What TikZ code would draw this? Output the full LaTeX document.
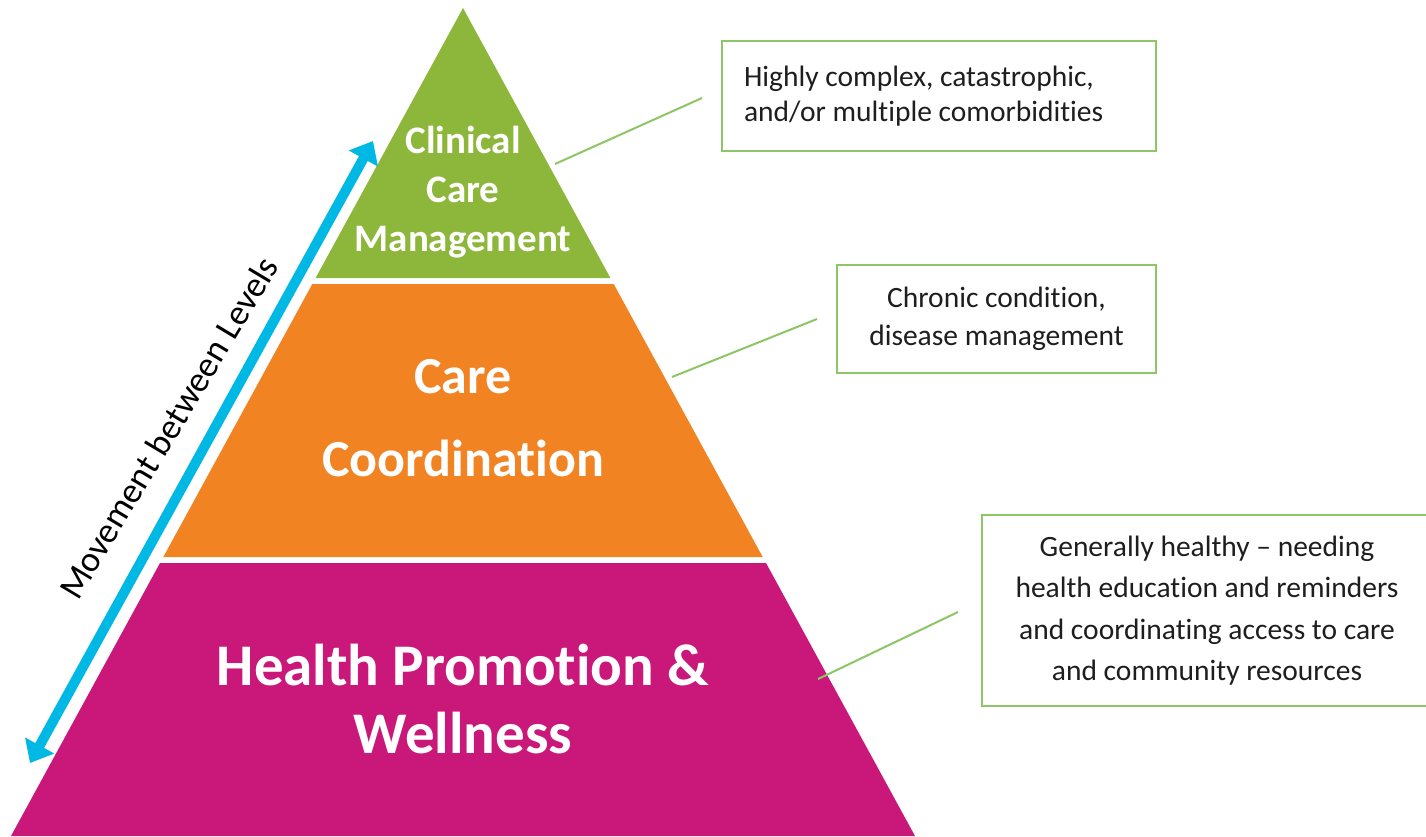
\documentclass[tikz,border=0pt]{standalone}
\usepackage{fontspec}
\setmainfont{Carlito}[Ligatures={NoCommon,NoDiscretionary,NoRare}]
\usetikzlibrary{arrows.meta}
\definecolor{lvgreen}{RGB}{141,183,59}
\definecolor{lvorange}{RGB}{242,131,34}
\definecolor{lvmagenta}{RGB}{202,23,122}
\definecolor{arrcyan}{RGB}{0,184,228}
\definecolor{boxgreen}{RGB}{141,198,103}
\definecolor{boxtext}{RGB}{30,30,30}
\tikzset{
  lvtext/.style={text=white, align=center, font=\bfseries},
  callout/.style={draw=boxgreen, line width=2.2pt, text=boxtext, inner sep=0pt},
  leader/.style={draw=boxgreen, line width=2pt},
  movearrow/.style={draw=arrcyan, line width=10pt, {Triangle[length=20pt,width=32pt]}-{Triangle[length=20pt,width=32pt]}},
}
\begin{document}
\begin{tikzpicture}[x=1pt,y=-1pt]
\clip (0,0) rectangle (1426,836);
\fill[white] (0,0) rectangle (1426,836);
% pyramid levels
\fill[lvgreen] (463,8) -- (315.6,278) -- (610.4,278) -- cycle;
\fill[lvorange] (312.3,284) -- (613.7,284) -- (762.7,557) -- (163.3,557) -- cycle;
\fill[lvmagenta] (160,563) -- (766,563) -- (915,836) -- (11,836) -- cycle;
% level labels
\node[lvtext, font=\bfseries\fontsize{39}{49}\selectfont] (clin) at (463,192) {Clinical\\Care\\Management};
\node[lvtext, font=\bfseries\fontsize{52}{83}\selectfont] (coord) at (463,418) {Care\\Coordination};
\node[lvtext, font=\bfseries\fontsize{59}{68}\selectfont] (health) at (463,699) {Health Promotion \&\\Wellness};
% movement arrow
\coordinate (arrLow) at (30,763);
\coordinate (arrHigh) at (373,141);
\draw[movearrow] (arrLow) -- (arrHigh);
\node[rotate=59, anchor=base, font=\fontsize{35.7}{40}\selectfont, text=black] (move) at (179,434) {Movement between Levels};
% callout boxes
\node[callout, minimum width=434pt, minimum height=110pt] (box1) at (939,96) {};
\node[anchor=west, align=left, text=boxtext, inner sep=0pt,
      font=\fontsize{29.5}{35}\selectfont] (box1text) at ([xshift=23pt]box1.west) {Highly complex, catastrophic,\\and/or multiple comorbidities};
\node[callout, minimum width=319pt, minimum height=108pt, align=center,
      font=\fontsize{29.5}{38}\selectfont] (box2) at (996.5,319) {Chronic condition,\\disease management};
\node[callout, minimum width=450pt, minimum height=191pt, align=center,
      font=\fontsize{29.5}{41.5}\selectfont] (box3) at (1207,610.5) {Generally healthy -- needing\\health education and reminders\\and coordinating access to care\\and community resources};
% leader lines
\coordinate (l1a) at (555,164);
\coordinate (l1b) at (702,98);
\coordinate (l2a) at (672,377);
\coordinate (l2b) at (817,319);
\coordinate (l3a) at (818,679);
\coordinate (l3b) at (958,612);
\draw[leader] (l1a) -- (l1b);
\draw[leader] (l2a) -- (l2b);
\draw[leader] (l3a) -- (l3b);
\end{tikzpicture}
\end{document}
